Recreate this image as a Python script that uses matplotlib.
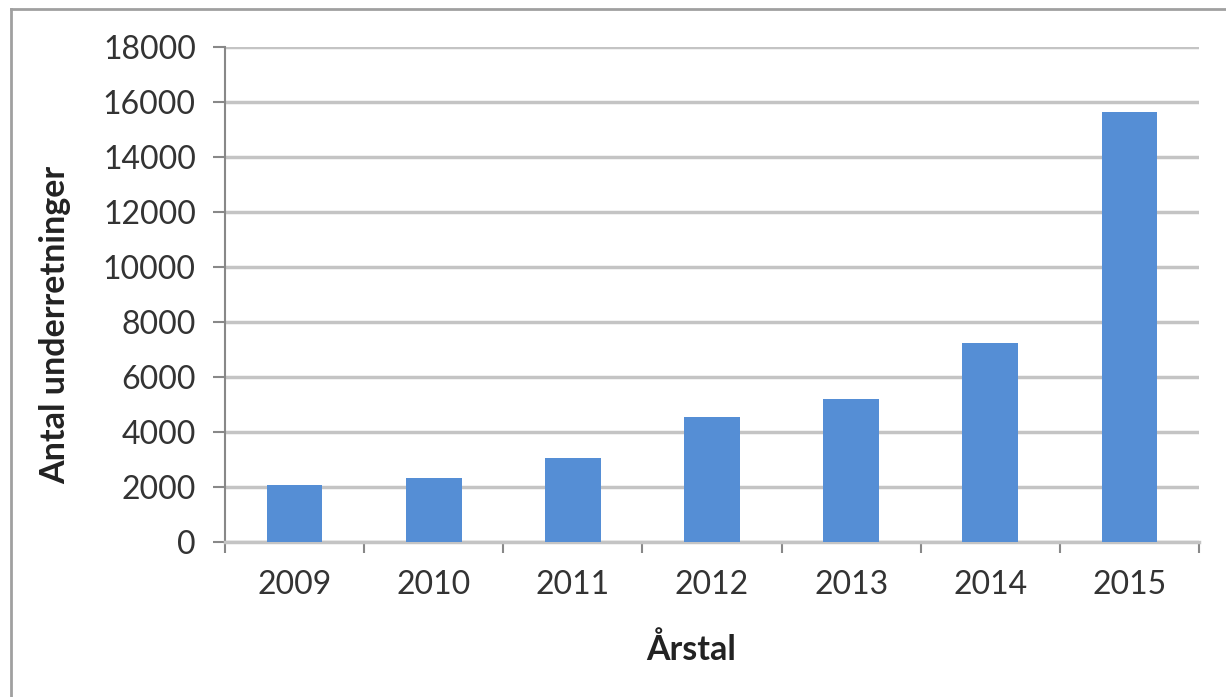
import matplotlib.pyplot as plt
from matplotlib.lines import Line2D

# Data
years = ["2009", "2010", "2011", "2012", "2013", "2014", "2015"]
counts = [2080, 2310, 3040, 4545, 5190, 7250, 15630]
y_ticks = [0, 2000, 4000, 6000, 8000, 10000, 12000, 14000, 16000, 18000]

W, H = 1226, 697
plt.rcParams["font.family"] = ["Lato", "DejaVu Sans"]

fig = plt.figure(figsize=(W / 100, H / 100), dpi=100)
ax = fig.add_axes([225 / W, 1 - 542 / H, (1199 - 225) / W, (542 - 47) / H])

x = list(range(len(years)))
ax.bar(x, counts, width=0.4, color="#558ED5", zorder=3)

# Axes limits and ticks
ax.set_xlim(-0.5, len(years) - 0.5)
ax.set_ylim(0, 18000)
ax.set_yticks(y_ticks)
ax.set_yticklabels([str(v) for v in y_ticks], fontsize=23, color="#333333")
ax.set_xticks(x)
ax.set_xticklabels(years, fontsize=23, color="#333333")
ax.set_xticks([i - 0.5 for i in range(len(years) + 1)], minor=True)

ax.tick_params(axis="x", which="major", length=0, pad=20)
ax.tick_params(axis="x", which="minor", length=8, width=1.5, color="#888888")
ax.tick_params(axis="y", which="major", length=9, width=1.5, color="#888888", pad=12)

# Gridlines
ax.grid(axis="y", color="#C4C4C4", linewidth=2.5, zorder=0)
ax.set_axisbelow(True)

for side in ["top", "right"]:
    ax.spines[side].set_visible(False)
ax.spines["left"].set_color("#888888")
ax.spines["left"].set_linewidth(1.5)
ax.spines["bottom"].set_color("#C4C4C4")
ax.spines["bottom"].set_linewidth(2.5)

# Axis titles
fig.text(691 / W, 1 - 650 / H, "Årstal", fontsize=24.5, fontweight="bold",
         ha="center", va="center", color="#222222")
fig.text(55 / W, 1 - 325 / H, "Antal underretninger", fontsize=24.5,
         fontweight="bold", rotation=90, ha="center", va="center", color="#222222")

# Chart border (top and left edges visible)
fig.add_artist(Line2D([11 / W, 1], [1 - 9 / H, 1 - 9 / H], color="#A0A0A0", linewidth=2,
                      transform=fig.transFigure))
fig.add_artist(Line2D([11 / W, 11 / W], [0, 1 - 9 / H], color="#A0A0A0", linewidth=2,
                      transform=fig.transFigure))

fig.savefig("out.png", dpi=100)
plt.close(fig)
